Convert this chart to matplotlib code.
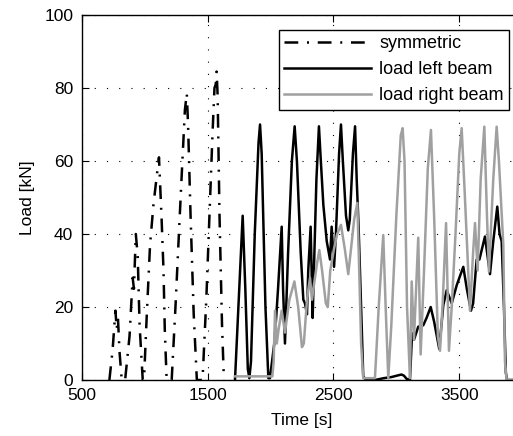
import matplotlib
matplotlib.use("Agg")
import matplotlib.pyplot as plt

plt.rcParams['font.family'] = ['Liberation Sans', 'DejaVu Sans']

# symmetric loading (time [s], load [kN])
t_sym = [720, 745, 768, 778, 788, 800, 818,
         845, 880, 905, 915, 930, 945, 960, 985,
         995, 1016, 1043, 1070, 1100, 1114, 1135, 1150, 1160, 1175,
         1215, 1245, 1275, 1300, 1320, 1335, 1345, 1365, 1390, 1415,
         1460, 1490, 1515, 1540, 1555, 1565, 1572, 1580, 1595, 1615, 1630]
f_sym = [0, 8, 19, 14, 17, 8, 0,
         0, 12, 28, 25, 40, 34, 15, 0,
         0, 17, 37, 48, 57, 61, 44, 30, 14, 0,
         0, 20, 42, 60, 74, 78.5, 70, 45, 18, 0,
         0, 22, 45, 68, 80, 81, 84.5, 78, 45, 15, 0]

# load on left beam
t_left = [1718, 1745, 1779, 1800, 1820, 1832, 1845, 1875, 1905, 1917, 1930, 1960, 1983,
          1996, 2030, 2045, 2060, 2089, 2100, 2115, 2140, 2170, 2192, 2210, 2240, 2261,
          2274, 2290, 2300, 2319, 2335, 2345, 2365, 2385, 2400, 2420, 2447, 2473, 2486,
          2505, 2520, 2545, 2560, 2575, 2600, 2618, 2630, 2655, 2672, 2685, 2700, 2720,
          2737, 2760, 2830, 2900, 2960, 3040, 3060, 3082, 3108, 3125, 3140, 3174, 3214,
          3240, 3273, 3300, 3341, 3373, 3400, 3440, 3480, 3532, 3560, 3593, 3610, 3638,
          3660, 3704, 3744, 3770, 3802, 3820, 3837, 3855, 3870, 3880, 3920]
f_left = [0, 20, 45, 25, 3, 0.5, 5, 40, 65, 70, 62, 20, 0.5,
          0.5, 10, 17, 25, 42, 25, 10, 35, 60, 69.5, 60, 35, 22,
          21, 18, 30, 42, 17, 30, 55, 69.5, 60, 48, 38, 33, 42,
          31, 40, 62, 70, 60, 45, 41, 44, 62, 69.5, 55, 42, 20,
          1, 0, 0, 0.5, 0.8, 1.5, 1.2, 0.3, 0, 12.8, 11, 14.6, 15,
          17, 20, 16, 8.5, 20.5, 24.6, 21, 26, 31, 25, 19, 21, 33,
          33, 39.3, 29, 38, 47.5, 40, 38, 20, 2, 0, 0]

# load on right beam
t_right = [1718, 2015, 2025, 2036, 2050, 2065, 2089, 2115, 2150, 2190, 2220, 2250, 2265,
           2290, 2314, 2330, 2345, 2370, 2388, 2410, 2440, 2455, 2475, 2505, 2530, 2560,
           2590, 2618, 2640, 2665, 2690, 2705, 2720, 2737, 2830, 2860, 2896, 2915, 2936,
           2960, 3000, 3035, 3050, 3065, 3085, 3108, 3122, 3140, 3174, 3193, 3220, 3250,
           3275, 3300, 3330, 3347, 3368, 3395, 3418, 3440, 3470, 3500, 3519, 3545, 3585,
           3610, 3625, 3646, 3670, 3699, 3720, 3736, 3770, 3797, 3815, 3850, 3863, 3877, 3920]
f_right = [1, 1, 5, 19, 10, 14, 19, 13, 22, 27, 20, 9, 10,
           22, 28, 22, 26, 32, 35.6, 30, 21, 20, 30, 36, 40, 42.5,
           36, 29, 36, 44, 48.5, 30, 10, 0.5, 0.5, 20, 39.7, 20, 0.5,
           15, 45, 67, 69, 60, 20, 0.5, 27, 11, 39, 7, 30, 58,
           68.5, 45, 12, 8, 21, 43, 8, 20, 40, 62, 69, 50, 19,
           35, 43, 30, 55, 69.4, 45, 29.7, 55, 69.4, 60, 37, 5, 0, 0]

fig = plt.figure(figsize=(5.13, 4.36), dpi=100)
ax = fig.add_axes([81.7 / 513, 56 / 436, 440.5 / 513, 365 / 436])

ax.plot(t_sym, f_sym, color='k', lw=1.8, dashes=(5.5, 3.5, 0.8, 3.5), label='symmetric')
ax.plot(t_left, f_left, color='k', lw=1.8, label='load left beam')
ax.plot(t_right, f_right, color='#a0a0a0', lw=1.8, label='load right beam')

ax.set_xlim(500, 4000)
ax.set_ylim(0, 100)
ax.set_xticks([500, 1500, 2500, 3500])
ax.set_yticks([0, 20, 40, 60, 80, 100])
ax.tick_params(direction='in', top=True, right=True, length=5, width=0.8,
               labelsize=12.5, pad=6)
ax.grid(True, color='k', lw=0.8, linestyle=(0, (1, 10)))
for s in ax.spines.values():
    s.set_linewidth(1.0)

ax.set_xlabel('Time [s]', fontsize=12.5, labelpad=7)
ax.set_ylabel('Load [kN]', fontsize=12.5, labelpad=7)

leg = ax.legend(loc='upper right', bbox_to_anchor=(509 / 513, 1 - 30 / 436),
                bbox_transform=fig.transFigure, borderaxespad=0, fontsize=13,
                handlelength=4.8, handletextpad=0.45, labelspacing=0.5,
                fancybox=False, framealpha=1, edgecolor='k', borderpad=0.3)
leg.get_frame().set_linewidth(1.0)

fig.savefig('out.png', dpi=100)
